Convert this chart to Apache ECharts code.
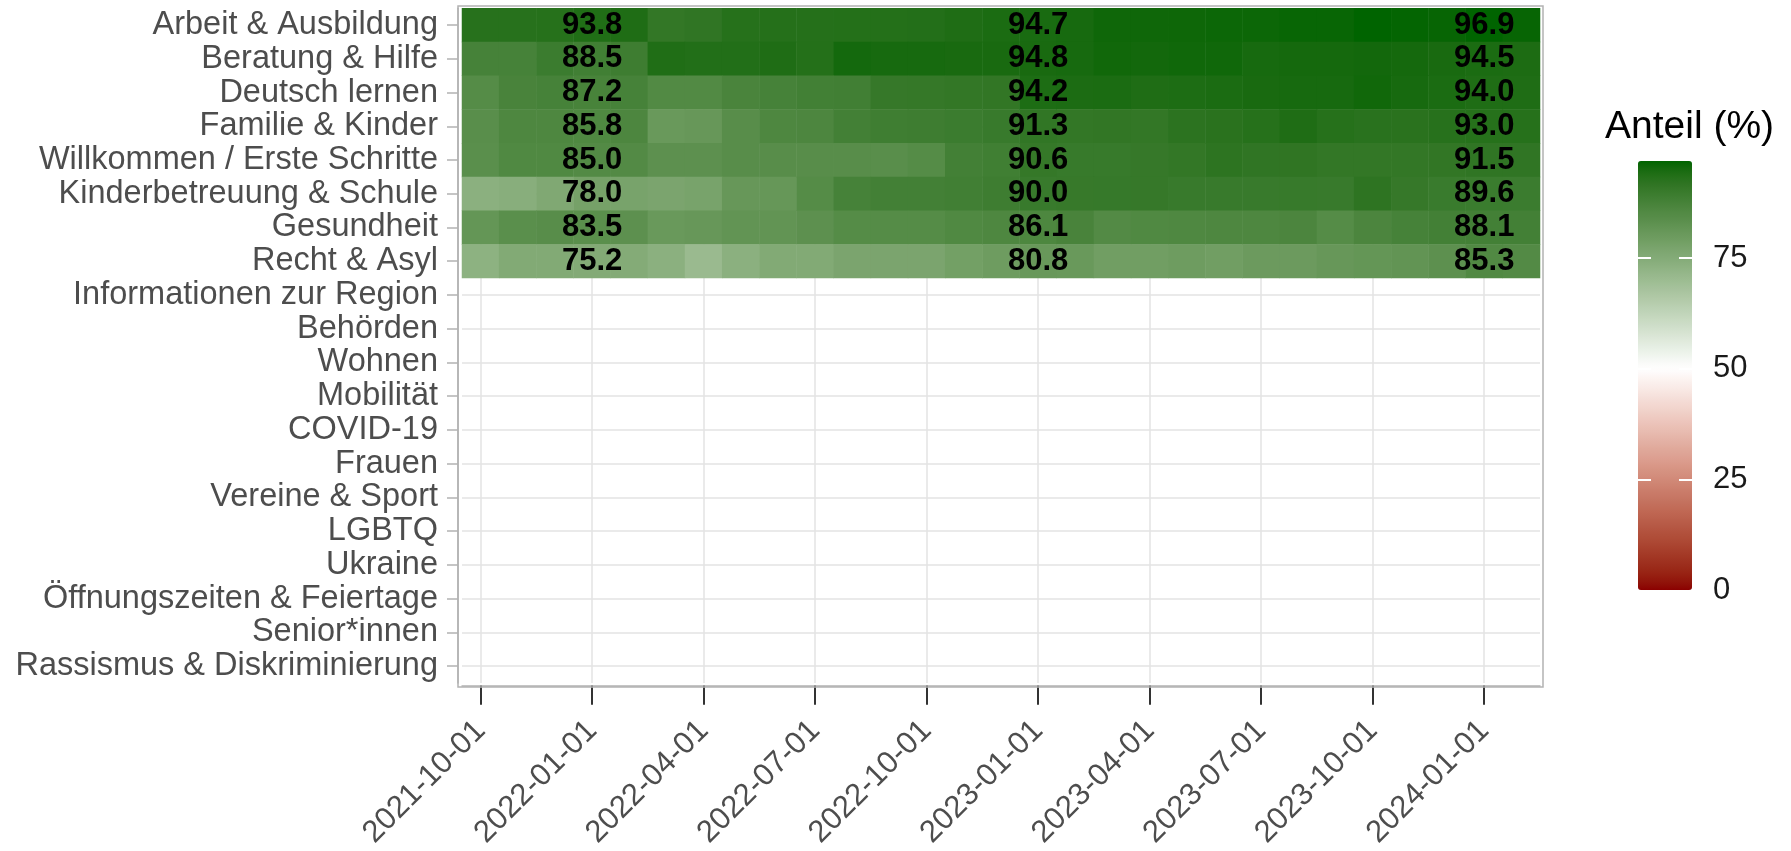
<!DOCTYPE html>
<html>
<head>
<meta charset="utf-8">
<script src="https://cdn.jsdelivr.net/npm/echarts@6/dist/echarts.min.js"></script>
<style>
  html, body { margin: 0; padding: 0; background: #fff; }
  #chart { width: 1791px; height: 851px; }
</style>
</head>
<body>
<div id="chart"></div>
<script>
const months = [
  "2021-10-01", "2021-11-01", "2021-12-01",
  "2022-01-01", "2022-02-01", "2022-03-01", "2022-04-01", "2022-05-01", "2022-06-01",
  "2022-07-01", "2022-08-01", "2022-09-01", "2022-10-01", "2022-11-01", "2022-12-01",
  "2023-01-01", "2023-02-01", "2023-03-01", "2023-04-01", "2023-05-01", "2023-06-01",
  "2023-07-01", "2023-08-01", "2023-09-01", "2023-10-01", "2023-11-01", "2023-12-01",
  "2024-01-01", "2024-02-01",
];

const themen = [
  "Arbeit & Ausbildung",
  "Beratung & Hilfe",
  "Deutsch lernen",
  "Familie & Kinder",
  "Willkommen / Erste Schritte",
  "Kinderbetreuung & Schule",
  "Gesundheit",
  "Recht & Asyl",
  "Informationen zur Region",
  "Behörden",
  "Wohnen",
  "Mobilität",
  "COVID-19",
  "Frauen",
  "Vereine & Sport",
  "LGBTQ",
  "Ukraine",
  "Öffnungszeiten & Feiertage",
  "Senior*innen",
  "Rassismus & Diskriminierung",
];

// Anteil (%) je Monat, Okt 2021 bis Feb 2024
const arbeit = [92.8, 92.8, 93.0, 93.8, 94.0, 91.0, 91.5, 93.0, 93.2, 93.2, 93.3, 93.3, 93.4, 94.0, 94.5,
  94.7, 95.0, 95.8, 95.8, 95.9, 96.0, 96.0, 96.3, 96.3, 96.9, 96.6, 96.4, 96.9, 96.4];
const beratung = [87.5, 87.5, 89.5, 88.5, 89.0, 93.9, 93.6, 93.6, 94.0, 93.3, 95.3, 95.0, 95.0, 94.8, 94.8,
  94.8, 95.0, 95.6, 95.4, 95.7, 95.7, 95.0, 95.2, 95.2, 95.4, 95.2, 94.8, 94.5, 94.3];
const deutsch = [84.5, 87.0, 87.5, 87.2, 87.5, 85.2, 85.2, 86.8, 87.5, 88.3, 88.5, 90.5, 90.6, 91.0, 91.2,
  94.2, 94.4, 94.5, 94.0, 94.2, 94.5, 94.8, 95.0, 95.0, 95.6, 95.0, 94.5, 94.0, 94.0];
const familie = [83.8, 86.0, 86.0, 85.8, 86.2, 80.5, 81.0, 84.0, 86.0, 86.2, 88.0, 88.8, 89.0, 89.5, 90.0,
  91.3, 91.0, 91.2, 91.0, 92.2, 92.5, 93.0, 94.0, 93.0, 92.6, 92.5, 92.8, 93.0, 93.0];
const willkommen = [83.5, 85.5, 85.5, 85.0, 85.0, 83.0, 83.0, 84.0, 84.0, 84.0, 84.0, 83.8, 84.5, 88.0, 88.6,
  90.6, 90.2, 90.2, 90.5, 91.0, 92.0, 91.5, 91.6, 91.0, 91.0, 91.0, 91.2, 91.5, 91.5];
const kinderbetreuung = [73.5, 74.0, 76.0, 78.0, 77.5, 77.0, 77.5, 81.0, 81.2, 84.5, 87.5, 88.0, 88.0, 88.5, 89.0,
  90.0, 90.3, 90.4, 90.5, 90.0, 90.0, 90.0, 90.2, 90.0, 91.8, 90.5, 89.8, 89.6, 89.5];
const gesundheit = [81.5, 83.5, 84.0, 83.5, 83.0, 80.5, 81.0, 82.0, 82.0, 83.0, 84.5, 84.5, 84.5, 85.5, 86.0,
  86.1, 87.0, 85.0, 85.5, 85.8, 86.0, 86.0, 86.5, 84.5, 86.5, 87.5, 88.0, 88.1, 88.0];
const recht = [73.0, 75.5, 75.5, 75.2, 75.0, 73.5, 70.5, 73.5, 75.5, 75.5, 77.0, 77.0, 77.0, 78.5, 79.5,
  80.8, 80.5, 79.0, 79.0, 79.5, 79.0, 80.0, 80.0, 81.0, 81.5, 82.0, 83.0, 85.3, 85.0];

const legendTicks = [0, 25, 50, 75];

const reihen = [arbeit, beratung, deutsch, familie, willkommen, kinderbetreuung, gesundheit, recht];

const heatData = [];
reihen.forEach((werte, y) => {
  werte.forEach((v, x) => heatData.push([x, y, v]));
});

const dataMax = Math.max(...heatData.map((d) => d[2]));

// Farbverlauf darkred (0) - white (50) - darkgreen (max), im Lab-Raum gemischt
function hexToRgb(h) {
  return [1, 3, 5].map((i) => parseInt(h.slice(i, i + 2), 16));
}
function rgbToLab(rgb) {
  const lin = rgb.map((c) => {
    c = c / 255;
    return c <= 0.04045 ? c / 12.92 : Math.pow((c + 0.055) / 1.055, 2.4);
  });
  const X = (0.4124564 * lin[0] + 0.3575761 * lin[1] + 0.1804375 * lin[2]) / 0.95047;
  const Y = 0.2126729 * lin[0] + 0.7151522 * lin[1] + 0.072175 * lin[2];
  const Z = (0.0193339 * lin[0] + 0.119192 * lin[1] + 0.9503041 * lin[2]) / 1.08883;
  const f = (t) => (t > 0.008856 ? Math.cbrt(t) : 7.787 * t + 16 / 116);
  return [116 * f(Y) - 16, 500 * (f(X) - f(Y)), 200 * (f(Y) - f(Z))];
}
function labToHex(lab) {
  const fy = (lab[0] + 16) / 116;
  const fx = lab[1] / 500 + fy;
  const fz = fy - lab[2] / 200;
  const inv = (t) => (t * t * t > 0.008856 ? t * t * t : (t - 16 / 116) / 7.787);
  const X = inv(fx) * 0.95047, Y = inv(fy), Z = inv(fz) * 1.08883;
  const lin = [
    3.2404542 * X - 1.5371385 * Y - 0.4985314 * Z,
    -0.969266 * X + 1.8760108 * Y + 0.041556 * Z,
    0.0556434 * X - 0.2040259 * Y + 1.0572252 * Z,
  ];
  return "#" + lin.map((c) => {
    c = c <= 0.0031308 ? 12.92 * c : 1.055 * Math.pow(c, 1 / 2.4) - 0.055;
    const n = Math.round(Math.min(1, Math.max(0, c)) * 255);
    return n.toString(16).padStart(2, "0");
  }).join("");
}

const labLow = rgbToLab(hexToRgb("#8b0000"));
const labMid = rgbToLab(hexToRgb("#ffffff"));
const labHigh = rgbToLab(hexToRgb("#006400"));
const mitte = 50;

function fillColor(v) {
  let a, b, s;
  if (v < mitte) {
    a = labLow; b = labMid; s = v / mitte;
  } else {
    a = labMid; b = labHigh; s = (v - mitte) / (dataMax - mitte);
  }
  return labToHex(a.map((c, i) => c + (b[i] - c) * s));
}

const legendColors = [];
for (let i = 0; i <= 96; i++) {
  legendColors.push(fillColor((dataMax * i) / 96));
}

const chart = echarts.init(document.getElementById("chart"));

const fontFamily = "'Liberation Sans', Arial, sans-serif";
const gridLine = { show: true, lineStyle: { color: "#e3e3e3", width: 1.5 } };

const option = {
  animation: false,
  textStyle: { fontFamily: fontFamily },
  title: {
    text: "Anteil (%)",
    left: 1605,
    top: 108,
    padding: 0,
    textStyle: { fontSize: 39, fontWeight: "normal", color: "#000", fontFamily: fontFamily },
  },
  grid: [
    { left: 462, top: 8.2, width: 1078, height: 676 },
    { left: 1638, top: 161, width: 54, height: 429 },
  ],
  xAxis: [
    {
      type: "category",
      gridIndex: 0,
      data: months,
      offset: 2.8,
      axisLine: { show: true, lineStyle: { color: "#b3b3b3", width: 1.5 } },
      axisTick: { show: true, alignWithLabel: true, interval: 2, length: 19, lineStyle: { color: "#333", width: 2 } },
      axisLabel: { show: true, interval: 2, rotate: 45, margin: 40, fontSize: 31, color: "#4d4d4d" },
      splitLine: { ...gridLine, interval: 2, alignWithLabel: true },
    },
    { type: "value", gridIndex: 1, show: false },
  ],
  yAxis: [
    {
      type: "category",
      gridIndex: 0,
      data: themen,
      inverse: true,
      offset: 4,
      axisLine: { show: true, lineStyle: { color: "#b3b3b3", width: 1.5 } },
      axisTick: { show: true, alignWithLabel: true, interval: 0, length: 11, lineStyle: { color: "#b3b3b3", width: 1.5 } },
      axisLabel: { show: true, interval: 0, margin: 20, fontSize: 32.5, color: "#4d4d4d", padding: [3.2, 0, 0, 0] },
      splitLine: { ...gridLine, interval: 0, alignWithLabel: true },
    },
    {
      type: "value",
      gridIndex: 1,
      position: "right",
      min: 0,
      max: dataMax,
      z: 10,
      axisLine: { show: false },
      axisTick: { show: false },
      axisLabel: { show: true, customValues: legendTicks, margin: 21, fontSize: 31, color: "#1a1a1a" },
      splitLine: { show: false },
    },
    {
      type: "value",
      gridIndex: 1,
      position: "left",
      min: 0,
      max: dataMax,
      z: 10,
      axisLine: { show: false },
      axisTick: {
        show: true,
        inside: true,
        length: 54,
        customValues: legendTicks.filter((v) => v > 0),
        lineStyle: { color: "#fff", width: 2, type: [13, 28] },
      },
      axisLabel: { show: false },
      splitLine: { show: false },
    },
  ],
  visualMap: {
    type: "continuous",
    min: 0,
    max: dataMax,
    seriesIndex: 0,
    calculable: false,
    hoverLink: false,
    orient: "vertical",
    left: 1638,
    top: 161,
    itemWidth: 54,
    itemHeight: 429,
    padding: 0,
    inRange: { color: legendColors },
  },
  graphic: [
    {
      type: "rect",
      z: 100,
      shape: { x: 458, y: 6, width: 1085, height: 681 },
      style: { fill: null, stroke: "#b3b3b3", lineWidth: 1.5 },
      silent: true,
    },
  ],
  series: [
    {
      type: "heatmap",
      xAxisIndex: 0,
      yAxisIndex: 0,
      data: heatData,
      emphasis: { disabled: true },
      label: {
        show: true,
        formatter: (p) => (months[p.value[0]].slice(5, 7) === "01" ? p.value[2].toFixed(1) : ""),
        fontSize: 31,
        fontWeight: "bold",
        color: "#000",
        fontFamily: fontFamily,
        padding: [3, 0, 0, 0],
      },
    },
  ],
};

chart.setOption(option);
</script>
</body>
</html>
